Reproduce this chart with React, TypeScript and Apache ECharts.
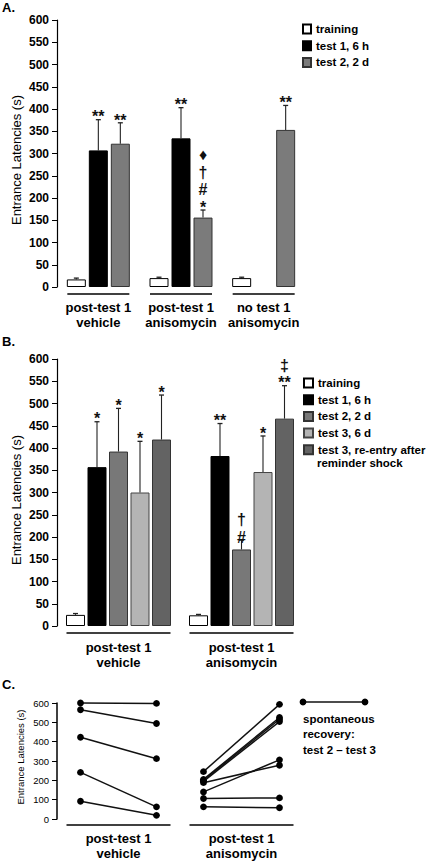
import { useEffect, useRef } from "react";
import * as echarts from "echarts";

const FONT = "'Liberation Sans', Arial, Helvetica, sans-serif";

// ---------- Panel A ----------
const groupsA = ["post-test 1\nvehicle", "post-test 1\nanisomycin", "no test 1\nanisomycin"];
const namesA = ["training", "test 1, 6 h", "test 2, 2 d"];
const trainingA = [17, 20, 20];
const trainingSemA = [3, 2, 2];
const test1A: (number | null)[] = [307, 334, null];
const test1SemA: (number | null)[] = [69, 69, null];
const test2A = [322, 156, 353];
const test2SemA = [47, 17, 55];
const marksTrainingA = ["", "", ""];
const marksTest1A = ["**", "**", ""];
const marksTest2A = ["**", "♦\n†\n#\n*", "**"];

// ---------- Panel B ----------
const groupsB = ["post-test 1\nvehicle", "post-test 1\nanisomycin"];
const namesB = ["training", "test 1, 6 h", "test 2, 2 d", "test 3, 6 d", "test 3, re-entry after"];
const legendB2ndLine = "reminder shock";
const trainingB = [25, 24];
const trainingSemB = [3, 2];
const test1B = [357, 382];
const test1SemB = [102, 73];
const test2B = [392, 172];
const test2SemB = [97, 21];
const test3B = [300, 346];
const test3SemB = [115, 81];
const reentryB = [419, 466];
const reentrySemB = [100, 74];
const marksTrainingB = ["", ""];
const marksTest1B = ["*", "**"];
const marksTest2B = ["*", "†\n#"];
const marksTest3B = ["*", "*"];
const marksReentryB = ["*", "‡\n**"];

// ---------- Panel C ----------
const groupsC = ["post-test 1\nvehicle", "post-test 1\nanisomycin"];
const vehicleTest2 = [600, 565, 423, 241, 92];
const vehicleTest3 = [598, 494, 312, 63, 19];
const anisoTest2 = [245, 205, 200, 195, 188, 140, 106, 63];
const anisoTest3 = [593, 525, 516, 504, 278, 306, 109, 58];
const legendC = ["spontaneous", "recovery:", "test 2 – test 3"];

const yName = "Entrance Latencies (s)";
const yTicksMax = 600;

// ---------- styling ----------
const BW = 19;
const GAP_A = 3;
const GAP_B = 2.5;
const colorsA = ["#ffffff", "#000000", "#7b7b7b"];
const colorsB = ["#ffffff", "#000000", "#787878", "#b4b4b4", "#636363"];
const bordersA = ["#000", "#000", "#333"];
const bordersB = ["#000", "#000", "#333", "#444", "#333"];

function barSeries(id: string, name: string, data: (number | null)[], color: string, border: string, xi: number, gapPct: string) {
  return {
    type: "bar",
    id,
    name,
    data,
    xAxisIndex: xi,
    yAxisIndex: xi,
    barWidth: BW,
    barGap: gapPct,
    silent: true,
    itemStyle: { color, borderColor: border, borderWidth: 1 },
  };
}

function errorSeries(xi: number, means: (number | null)[][], sems: (number | null)[][], marks: string[][], gap: number) {
  const n = means.length;
  const data: number[][] = [];
  const notes: string[] = [];
  means.forEach((arr, si) =>
    arr.forEach((m, ci) => {
      if (m == null) return;
      data.push([ci, m, m + (sems[si][ci] as number), si]);
      notes.push(marks[si][ci]);
    })
  );
  return {
    type: "custom",
    xAxisIndex: xi,
    yAxisIndex: xi,
    silent: true,
    z: 5,
    data,
    renderItem: (params: any, api: any) => {
      const ci = api.value(0);
      const m = api.value(1);
      const top = api.value(2);
      const si = api.value(3);
      const p = api.coord([ci, m]);
      const t = api.coord([ci, top]);
      const x = p[0] + (si - (n - 1) / 2) * (BW + gap);
      const children: any[] = [
        { type: "line", shape: { x1: x, y1: p[1], x2: x, y2: t[1] }, style: { stroke: "#222", lineWidth: 1.1 } },
        { type: "line", shape: { x1: x - 2.5, y1: t[1], x2: x + 2.5, y2: t[1] }, style: { stroke: "#222", lineWidth: 1.3 } },
      ];
      const note = notes[params.dataIndex];
      if (note) {
        children.push({
          type: "text",
          x,
          y: t[1] + 6,
          style: {
            text: note,
            fill: "#111",
            fontSize: 16,
            fontWeight: "bold",
            fontFamily: FONT,
            align: "center",
            verticalAlign: "bottom",
            lineHeight: 17.5,
          },
        });
      }
      return { type: "group", children };
    },
  };
}

function underlineSeries(xi: number, nCat: number, halfWidth: number, dy: number) {
  return {
    type: "custom",
    xAxisIndex: xi,
    yAxisIndex: xi,
    silent: true,
    data: Array.from({ length: nCat }, (_, i) => [i, 0]),
    renderItem: (_p: any, api: any) => {
      const c = api.coord([api.value(0), 0]);
      return {
        type: "line",
        shape: { x1: c[0] - halfWidth, y1: c[1] + dy, x2: c[0] + halfWidth, y2: c[1] + dy },
        style: { stroke: "#000", lineWidth: 1.5 },
      };
    },
  };
}

function pairSeries(xi: number, groups: [number[], number[]][], half: number) {
  const data: number[][] = [];
  groups.forEach(([a, b], ci) => a.forEach((v, k) => data.push([ci, v, b[k]])));
  return {
    type: "custom",
    xAxisIndex: xi,
    yAxisIndex: xi,
    silent: true,
    z: 5,
    data,
    renderItem: (_p: any, api: any) => {
      const ci = api.value(0);
      const p0 = api.coord([ci, api.value(1)]);
      const p1 = api.coord([ci, api.value(2)]);
      const x0 = p0[0] - half;
      const x1 = p0[0] + half;
      return {
        type: "group",
        children: [
          { type: "line", shape: { x1: x0, y1: p0[1], x2: x1, y2: p1[1] }, style: { stroke: "#111", lineWidth: 1.5 } },
          { type: "circle", shape: { cx: x0, cy: p0[1], r: 3.4 }, style: { fill: "#000" } },
          { type: "circle", shape: { cx: x1, cy: p1[1], r: 3.4 }, style: { fill: "#000" } },
        ],
      };
    },
  };
}

function yAxis(gi: number, interval: number, bold: boolean, fontSize: number) {
  return {
    type: "value",
    gridIndex: gi,
    min: 0,
    max: yTicksMax,
    interval,
    axisLine: { show: true, lineStyle: { color: "#000", width: gi === 2 ? 1.5 : 1.2 } },
    axisTick: { show: true, length: 5, lineStyle: { color: "#000" } },
    axisLabel: { margin: 8, color: "#000", fontFamily: FONT, fontSize, fontWeight: bold ? "bold" : "normal" },
    splitLine: { show: false },
  };
}

function xAxis(gi: number, data: string[], margin: number) {
  return {
    type: "category",
    gridIndex: gi,
    data,
    axisLine: { show: false },
    axisTick: { show: false },
    axisLabel: { margin, color: "#000", fontFamily: FONT, fontSize: 13, fontWeight: "bold", lineHeight: 15, interval: 0 },
  };
}

function yNameText(x: number, y: number, size: number) {
  return {
    type: "text",
    x,
    y,
    rotation: Math.PI / 2,
    style: { text: yName, fill: "#000", fontFamily: FONT, fontSize: size, align: "center", verticalAlign: "middle" },
  };
}

const stripName = (n: string) => n.split("|")[1];

function buildOption() {
  const gapA = `${(GAP_A / BW) * 100}%`;
  const gapB = `${(GAP_B / BW) * 100}%`;
  const valsA = [trainingA, test1A, test2A];
  const semsA = [trainingSemA, test1SemA, test2SemA];
  const marksA = [marksTrainingA, marksTest1A, marksTest2A];
  const valsB = [trainingB, test1B, test2B, test3B, reentryB];
  const semsB = [trainingSemB, test1SemB, test2SemB, test3SemB, reentrySemB];
  const marksB = [marksTrainingB, marksTest1B, marksTest2B, marksTest3B, marksReentryB];

  const legendText = { fontFamily: FONT, fontSize: 11.5, fontWeight: "bold", color: "#000", lineHeight: 14 };

  return {
    animation: false,
    backgroundColor: "#fff",
    title: [
      { text: "A.", left: 2, top: 1, padding: 0, textStyle: { fontFamily: FONT, fontSize: 13, fontWeight: "bold", color: "#000" } },
      { text: "B.", left: 2, top: 335, padding: 0, textStyle: { fontFamily: FONT, fontSize: 13, fontWeight: "bold", color: "#000" } },
      { text: "C.", left: 2, top: 678, padding: 0, textStyle: { fontFamily: FONT, fontSize: 13, fontWeight: "bold", color: "#000" } },
    ],
    legend: [
      {
        data: namesA.map((n) => "A|" + n),
        formatter: stripName,
        orient: "vertical",
        left: 302,
        top: 22,
        padding: 0,
        itemWidth: 8,
        itemHeight: 9,
        itemGap: 2.7,
        icon: "rect",
        selectedMode: false,
        textStyle: legendText,
      },
      {
        data: namesB.map((n) => "B|" + n),
        formatter: stripName,
        orient: "vertical",
        left: 303,
        top: 376,
        padding: 0,
        itemWidth: 9,
        itemHeight: 9,
        itemGap: 2.7,
        icon: "rect",
        selectedMode: false,
        textStyle: legendText,
      },
    ],
    grid: [
      { left: 57, top: 20, width: 248, height: 267 },
      { left: 57, top: 359, width: 246, height: 267 },
      { left: 57, top: 703, width: 246, height: 117 },
    ],
    xAxis: [xAxis(0, groupsA, 12.5), xAxis(1, groupsB, 14), xAxis(2, groupsC, 12)],
    yAxis: [yAxis(0, 50, true, 12), yAxis(1, 50, true, 12), yAxis(2, 100, false, 9.5)],
    series: [
      ...valsA.map((v, i) => barSeries("a" + i, "A|" + namesA[i], v, colorsA[i], bordersA[i], 0, gapA)),
      errorSeries(0, valsA, semsA, marksA, GAP_A),
      underlineSeries(0, groupsA.length, 31, 7),
      ...valsB.map((v, i) => barSeries("b" + i, "B|" + namesB[i], v, colorsB[i], bordersB[i], 1, gapB)),
      errorSeries(1, valsB, semsB, marksB, GAP_B),
      underlineSeries(1, groupsB.length, 52, 7),
      pairSeries(2, [[vehicleTest2, vehicleTest3], [anisoTest2, anisoTest3]], 38),
      underlineSeries(2, groupsC.length, 52, 6),
    ],
    graphic: [
      yNameText(16, 160, 13),
      yNameText(16, 500, 13),
      yNameText(20, 757, 9.5),
      {
        type: "text",
        x: 317,
        y: 463,
        style: { text: legendB2ndLine, fill: "#000", fontFamily: FONT, fontSize: 11.5, fontWeight: "bold", verticalAlign: "middle" },
      },
      { type: "line", shape: { x1: 303, y1: 702, x2: 365, y2: 702 }, style: { stroke: "#111", lineWidth: 1.5 } },
      { type: "circle", shape: { cx: 303, cy: 702, r: 3.4 }, style: { fill: "#000" } },
      { type: "circle", shape: { cx: 365, cy: 702, r: 3.4 }, style: { fill: "#000" } },
      {
        type: "text",
        x: 303,
        y: 711,
        style: { text: legendC.join("\n"), fill: "#000", fontFamily: FONT, fontSize: 11.5, fontWeight: "bold", lineHeight: 15.5, verticalAlign: "top" },
      },
    ],
  };
}

export default function App() {
  const ref = useRef<HTMLDivElement>(null);
  useEffect(() => {
    const chart = echarts.init(ref.current as HTMLDivElement, null, { renderer: "svg" });
    chart.setOption(buildOption() as any);
    return () => chart.dispose();
  }, []);
  return (
    <div
      ref={ref}
      style={{ position: "fixed", left: 0, top: 0, width: 426, height: 861, background: "#fff" }}
    />
  );
}
